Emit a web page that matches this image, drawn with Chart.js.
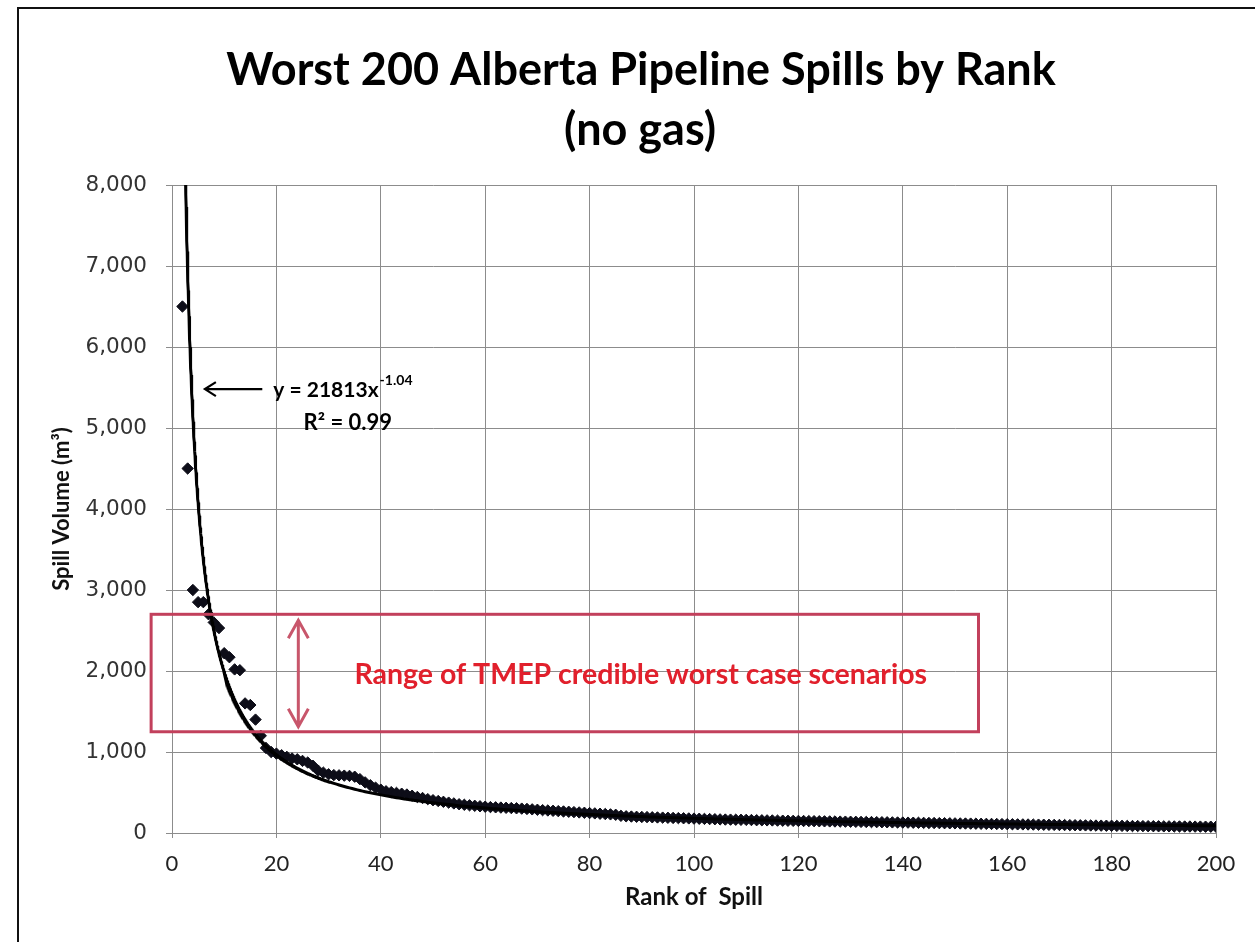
<!DOCTYPE html>
<html>
<head>
<meta charset="utf-8">
<script src="https://cdn.jsdelivr.net/npm/chart.js@4.4.1/dist/chart.umd.min.js"></script>
<style>
  html, body { margin: 0; padding: 0; background: #fff; }
  body { width: 1255px; height: 942px; position: relative; overflow: hidden; }
  #frame { position: absolute; left: 17px; top: 7px; width: 1400px; height: 1100px;
           border-left: 2px solid #111; border-top: 2px solid #111; }
  #wrap { position: absolute; left: 0; top: 0; width: 1255px; height: 942px; }
</style>
</head>
<body>
<div id="frame"></div>
<div id="wrap"><canvas id="c" width="1255" height="942"></canvas></div>
<script>
// ---- Data ----
const TITLE_LINES = ['Worst 200 Alberta Pipeline Spills by Rank', '(no gas)'];
const X_TITLE = 'Rank of  Spill';
const Y_TITLE = 'Spill Volume (m\u00B3)';
const X_TICKS = [0, 20, 40, 60, 80, 100, 120, 140, 160, 180, 200];
const Y_TICKS = [0, 1000, 2000, 3000, 4000, 5000, 6000, 7000, 8000];

// spill volume (m3) by rank 1..200 (rank 1 lies above the plotted range)
const VOLUMES = [
  10000, 6500, 4500, 3000, 2850, 2850, 2700, 2600, 2530, 2220,
  2170, 2020, 2010, 1600, 1580, 1400, 1200, 1050, 1000, 980,
  960, 940, 920, 910, 890, 870, 830, 770, 745, 725,
  715, 712, 708, 705, 695, 665, 625, 590, 560, 535,
  515, 505, 495, 485, 475, 460, 445, 432, 418, 405,
  395, 385, 375, 365, 355, 348, 342, 336, 330, 325,
  320, 317, 314, 311, 308, 305, 301, 297, 292, 287,
  282, 278, 274, 270, 266, 262, 258, 254, 250, 246,
  242, 238, 234, 230, 225, 212, 206, 203, 200, 198,
  196, 194, 192, 190, 188, 186, 184, 182, 180, 178,
  176, 174, 172, 170, 168, 166, 165, 164, 163, 162,
  160, 158, 157, 156, 155, 153, 152, 151, 150, 149,
  148, 147, 146, 145, 144, 143, 142, 141, 140, 139,
  138, 137, 136, 135, 134, 133, 132, 131, 130, 129,
  128, 127, 126, 125, 124, 123, 122, 121, 120, 119,
  118, 117, 116, 115, 114, 113, 112, 111, 110, 109,
  108, 107, 106, 105, 104, 103, 102, 101, 100, 99,
  98, 97, 96, 95, 94, 93, 92, 91, 90, 89,
  88, 88, 87, 86, 86, 85, 84, 84, 83, 82,
  82, 81, 81, 80, 80, 79, 79, 78, 78, 77
];

// Power-law trendline printed on the chart: y = 21813 x^-1.04, R² = 0.99
const TREND_A = 21813;
const TREND_B = -1.04;
const TREND_LABEL = 'y = 21813x';
const TREND_EXP = '-1.04';
const R2_LABEL = 'R\u00B2 = 0.99';
const RANGE_LABEL = 'Range of TMEP credible worst case scenarios';
const RANGE_LOW = 1250, RANGE_HIGH = 2700;   // m3 band of the red box

// ---- build datasets ----
const points = VOLUMES.map((v, i) => ({ x: i + 1, y: v }));
const trendPts = [];
const xStart = Math.pow(8200 / TREND_A, 1 / TREND_B);
for (let x = xStart; x <= 200.0001; x += (x < 30 ? 0.05 : 0.5)) {
  trendPts.push({ x: x, y: TREND_A * Math.pow(x, TREND_B) });
}
trendPts.push({ x: 200, y: TREND_A * Math.pow(200, TREND_B) });

const titlePlugin = {
  id: 'pageTitle',
  afterDraw(chart) {
    const ctx = chart.ctx;
    ctx.save();
    ctx.fillStyle = '#000';
    ctx.font = 'bold 45px Lato';
    ctx.textAlign = 'center';
    ctx.textBaseline = 'middle';
    ctx.fillText(TITLE_LINES[0], 641, 70);
    ctx.fillText(TITLE_LINES[1], 640, 130);
    ctx.restore();
  }
};

const annotations = {
  id: 'annotations',
  afterDatasetsDraw(chart) {
    const ctx = chart.ctx;
    const xs = chart.scales.x, ys = chart.scales.y;
    const X = v => xs.getPixelForValue(v), Y = v => ys.getPixelForValue(v);
    ctx.save();
    // red box
    ctx.strokeStyle = '#c2405c';
    ctx.lineWidth = 3;
    const bx0 = X(-4), bx1 = X(154.5), by0 = Y(RANGE_HIGH), by1 = Y(RANGE_LOW);
    ctx.strokeRect(bx0, by0, bx1 - bx0, by1 - by0);
    // double arrow
    ctx.strokeStyle = '#c8566b';
    ctx.lineWidth = 3;
    const ax = X(24.2), ay0 = by0 + 6, ay1 = by1 - 5;
    ctx.beginPath();
    ctx.moveTo(ax, ay0); ctx.lineTo(ax, ay1);
    ctx.moveTo(ax - 10, ay0 + 18); ctx.lineTo(ax, ay0); ctx.lineTo(ax + 10, ay0 + 18);
    ctx.moveTo(ax - 10, ay1 - 18); ctx.lineTo(ax, ay1); ctx.lineTo(ax + 10, ay1 - 18);
    ctx.stroke();
    // range text
    ctx.fillStyle = '#e1202c';
    ctx.font = 'bold 28.5px Lato';
    ctx.textAlign = 'center';
    ctx.textBaseline = 'middle';
    ctx.fillText(RANGE_LABEL, X(89.8), Y(1950));
    // trend label arrow
    const ty = Y(5480);
    ctx.strokeStyle = '#000';
    ctx.lineWidth = 2.2;
    ctx.beginPath();
    ctx.moveTo(X(17.3), ty); ctx.lineTo(X(6.3), ty);
    ctx.moveTo(X(6.3) + 11, ty - 7); ctx.lineTo(X(6.3), ty); ctx.lineTo(X(6.3) + 11, ty + 7);
    ctx.stroke();
    ctx.fillStyle = '#000';
    ctx.textAlign = 'left';
    ctx.font = 'bold 21px Lato';
    const tx = X(19.4);
    ctx.fillText(TREND_LABEL, tx, ty + 1);
    const w = ctx.measureText(TREND_LABEL).width;
    ctx.font = 'bold 14px Lato';
    ctx.fillText(TREND_EXP, tx + w + 1, ty - 9);
    ctx.font = 'bold 22px Lato';
    ctx.fillText(R2_LABEL, X(25.2), Y(5060));
    ctx.restore();
  }
};

const GRID = '#8c8c8c';
new Chart(document.getElementById('c'), {
  type: 'scatter',
  data: {
    datasets: [
      {
        type: 'line',
        label: 'trend',
        data: trendPts,
        borderColor: '#000',
        borderWidth: 3,
        pointRadius: 0,
        fill: false,
        tension: 0,
        order: 0
      },
      {
        label: 'spills',
        data: points,
        pointStyle: 'rectRot',
        pointRadius: 5.7,
        backgroundColor: '#0d0d18',
        borderColor: '#0d0d18',
        borderWidth: 1,
        order: 1
      }
    ]
  },
  options: {
    responsive: false,
    animation: false,
    devicePixelRatio: 1,
    layout: { padding: { top: 185, left: 30, right: 39, bottom: 19 } },
    plugins: {
      legend: { display: false },
      tooltip: { enabled: false },
      title: { display: false }
    },
    scales: {
      x: {
        type: 'linear',
        min: 0, max: 200,
        afterFit(s) { s.height = 90; },
        afterBuildTicks(s) { s.ticks = X_TICKS.map(v => ({ value: v })); },
        grid: { color: GRID, lineWidth: 1, tickLength: 5 },
        border: { color: GRID, width: 1 },
        ticks: { color: '#222', padding: 13, maxRotation: 0,
                 font: { family: 'Lato', size: 22 } },
        title: { display: true, text: X_TITLE, color: '#111',
                 font: { family: 'Lato', size: 24, weight: 'bold' },
                 padding: { top: 11, bottom: 11 } }
      },
      y: {
        type: 'linear',
        min: 0, max: 8000,
        afterFit(s) { s.width = 142; },
        afterBuildTicks(s) { s.ticks = Y_TICKS.map(v => ({ value: v })); },
        grid: { color: GRID, lineWidth: 1, tickLength: 6 },
        border: { color: GRID, width: 1 },
        ticks: { color: '#333', padding: 19,
                 font: { family: 'DejaVu Sans', size: 21.5 },
                 callback: v => Number(v).toLocaleString('en-US') },
        title: { display: true, text: Y_TITLE, color: '#111',
                 font: { family: 'Lato', size: 22, weight: 'bold' },
                 padding: { top: 19, bottom: 19 } }
      }
    }
  },
  plugins: [annotations, titlePlugin]
});
</script>
</body>
</html>
